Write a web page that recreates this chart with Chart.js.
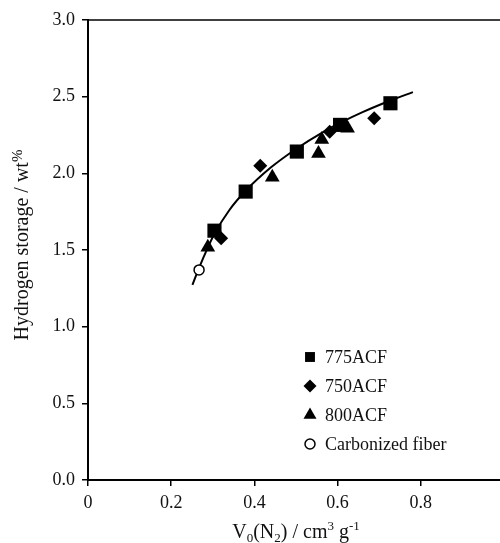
<!DOCTYPE html>
<html>
<head>
<meta charset="utf-8">
<script src="https://cdn.jsdelivr.net/npm/chart.js@4/dist/chart.umd.min.js"></script>
<style>
  html, body { margin: 0; padding: 0; background: #fff; overflow: hidden; }
  #wrap { width: 500px; height: 543px; overflow: hidden; }
</style>
</head>
<body>
<div id="wrap"><canvas id="h2-chart" width="520" height="543"></canvas></div>
<script>
// series
var acf775X = [0.304, 0.379, 0.502, 0.606, 0.727];
var acf775Y = [1.626, 1.881, 2.142, 2.316, 2.457];

var acf750X = [0.320, 0.414, 0.581, 0.688];
var acf750Y = [1.577, 2.05, 2.272, 2.36];

var acf800X = [0.288, 0.443, 0.554, 0.562, 0.624];
var acf800Y = [1.518, 1.975, 2.13, 2.22, 2.294];

var carbX = [0.267];
var carbY = [1.37];

// fitted trend line
var fitX = [0.251, 0.267, 0.288, 0.304, 0.34, 0.379, 0.44, 0.50, 0.566, 0.606, 0.66, 0.727, 0.781];
var fitY = [1.272, 1.384, 1.516, 1.606, 1.761, 1.886, 2.039, 2.159, 2.271, 2.329, 2.399, 2.475, 2.53];

var xTicks = [0, 0.2, 0.4, 0.6, 0.8, 1.0];
var yTicks = [0, 0.5, 1.0, 1.5, 2.0, 2.5, 3.0];

var legendNames = ['775ACF', '750ACF', '800ACF', 'Carbonized fiber'];

var SERIF = '"Liberation Serif", "Times New Roman", serif';

function pts(xs, ys) {
    return xs.map(function(x, i) { return {x: x, y: ys[i]}; });
}

// legend drawn inside plot + top frame line + axis titles with sub/superscripts
var extras = {
    id: 'extras',
    afterDraw: function(chart) {
        var ctx = chart.ctx;
        var area = chart.chartArea;
        ctx.save();

        // top frame
        ctx.strokeStyle = '#000';
        ctx.lineWidth = 1.5;
        ctx.beginPath();
        ctx.moveTo(area.left, area.top);
        ctx.lineTo(chart.width, area.top);
        ctx.stroke();

        // legend
        var rows = [357, 386, 415, 444];
        chart.data.datasets.forEach(function(ds, i) {
            if (i > 3) return;
            var opts = {
                pointStyle: ds.pointStyle,
                radius: [7, 6.5, 7.5, 5][i],
                rotation: 0,
                borderWidth: ds.borderWidth
            };
            ctx.fillStyle = ds.backgroundColor;
            ctx.strokeStyle = ds.borderColor;
            ctx.lineWidth = ds.borderWidth;
            Chart.helpers.drawPoint(ctx, opts, 310, rows[i]);
            ctx.fillStyle = '#111';
            ctx.font = '18px ' + SERIF;
            ctx.textBaseline = 'middle';
            ctx.textAlign = 'left';
            ctx.fillText(legendNames[i], 325, rows[i] + 1);
        });

        // x title: V0(N2) / cm3 g-1
        var big = '20px ' + SERIF, small = '13px ' + SERIF;
        var parts = [
            ['V', big, 0], ['0', small, 4], ['(N', big, 0], ['2', small, 4],
            [') / cm', big, 0], ['3', small, -8], [' g', big, 0], ['-1', small, -8]
        ];
        var total = 0;
        parts.forEach(function(p) { ctx.font = p[1]; total += ctx.measureText(p[0]).width; });
        var cx = (area.left + area.right) / 2 - total / 2;
        ctx.textAlign = 'left';
        ctx.textBaseline = 'alphabetic';
        ctx.fillStyle = '#111';
        parts.forEach(function(p) {
            ctx.font = p[1];
            ctx.fillText(p[0], cx, 538 + p[2]);
            cx += ctx.measureText(p[0]).width;
        });

        // y title: Hydrogen storage / wt%
        ctx.translate(28, (area.top + area.bottom) / 2 - 5);
        ctx.rotate(-Math.PI / 2);
        var yparts = [['Hydrogen storage / wt', '20px ' + SERIF, 0], ['%', '15px ' + SERIF, -6]];
        total = 0;
        yparts.forEach(function(p) { ctx.font = p[1]; total += ctx.measureText(p[0]).width; });
        cx = -total / 2;
        yparts.forEach(function(p) {
            ctx.font = p[1];
            ctx.fillText(p[0], cx, p[2]);
            cx += ctx.measureText(p[0]).width;
        });
        ctx.restore();
    }
};

var ctx = document.getElementById('h2-chart');

var myChart = new Chart(ctx, {
    type: 'scatter',
    data: {
        datasets: [
            {
                label: legendNames[0], data: pts(acf775X, acf775Y),
                pointStyle: 'rect', pointRadius: 10, backgroundColor: '#000',
                borderColor: '#000', borderWidth: 0, order: 1
            },
            {
                label: legendNames[1], data: pts(acf750X, acf750Y),
                pointStyle: 'rectRot', pointRadius: 7, backgroundColor: '#000',
                borderColor: '#000', borderWidth: 0, order: 1
            },
            {
                label: legendNames[2], data: pts(acf800X, acf800Y),
                pointStyle: 'triangle', pointRadius: 8.5, backgroundColor: '#000',
                borderColor: '#000', borderWidth: 0, order: 1
            },
            {
                label: legendNames[3], data: pts(carbX, carbY),
                pointStyle: 'circle', pointRadius: 5, backgroundColor: '#fff',
                borderColor: '#000', borderWidth: 1.5, order: 0
            },
            {
                label: 'fit', data: pts(fitX, fitY), showLine: true,
                pointRadius: 0, borderColor: '#000', borderWidth: 2,
                cubicInterpolationMode: 'monotone', fill: false, order: 5
            }
        ]
    },
    options: {
        responsive: false,
        animation: false,
        layout: { padding: { left: 0, top: 20, right: 16, bottom: 0 } },
        plugins: {
            legend: { display: false },
            tooltip: { enabled: false }
        },
        scales: {
            x: {
                type: 'linear', min: 0, max: 1,
                afterFit: function(scale) { scale.height = 63; },
                afterBuildTicks: function(scale) {
                    scale.ticks = xTicks.map(function(v) { return {value: v}; });
                },
                ticks: {
                    color: '#111', padding: 6,
                    font: { family: SERIF, size: 18 },
                    callback: function(v) { return String(v); }
                },
                grid: { drawOnChartArea: false, drawTicks: true, tickLength: 6, color: '#000', lineWidth: 1.5 },
                border: { display: true, color: '#000', width: 2 }
            },
            y: {
                min: 0, max: 3,
                afterFit: function(scale) { scale.width = 88; },
                afterBuildTicks: function(scale) {
                    scale.ticks = yTicks.map(function(v) { return {value: v}; });
                },
                ticks: {
                    color: '#111', padding: 7,
                    font: { family: SERIF, size: 18 },
                    callback: function(v) { return v.toFixed(1); }
                },
                grid: { drawOnChartArea: false, drawTicks: true, tickLength: 6, color: '#000', lineWidth: 1.5 },
                border: { display: true, color: '#000', width: 2 }
            }
        }
    },
    plugins: [extras]
});
</script>
</body>
</html>
